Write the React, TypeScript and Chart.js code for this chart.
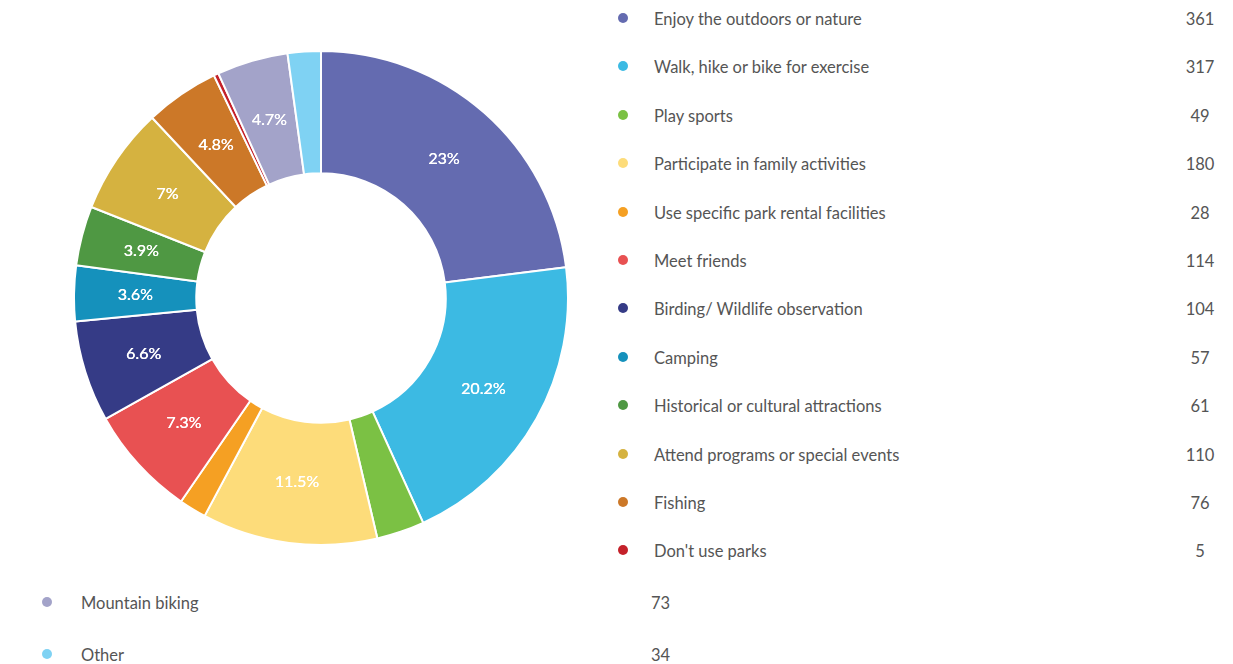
import React, { useEffect, useRef } from "react";
import { Chart, registerables } from "chart.js";

Chart.register(...registerables);

const categories = [
  "Enjoy the outdoors or nature",
  "Walk, hike or bike for exercise",
  "Play sports",
  "Participate in family activities",
  "Use specific park rental facilities",
  "Meet friends",
  "Birding/ Wildlife observation",
  "Camping",
  "Historical or cultural attractions",
  "Attend programs or special events",
  "Fishing",
  "Don't use parks",
  "Mountain biking",
  "Other",
];

const counts = [361, 317, 49, 180, 28, 114, 104, 57, 61, 110, 76, 5, 73, 34];

const colors = [
  "#646bb0",
  "#3cbae3",
  "#7bc144",
  "#fddc7a",
  "#f5a023",
  "#e85152",
  "#353b86",
  "#1591bc",
  "#4f9843",
  "#d5b240",
  "#cc7828",
  "#c4212a",
  "#a3a3c9",
  "#7fd2f3",
];

const labelPlugin = {
  id: "sliceLabels",
  afterDatasetsDraw(chart: any) {
    const ctx = chart.ctx;
    const meta = chart.getDatasetMeta(0);
    const data = chart.data.datasets[0].data as number[];
    const total = data.reduce((a, b) => a + b, 0);
    ctx.save();
    ctx.font = "16px Lato";
    ctx.fillStyle = "#ffffff";
    ctx.textAlign = "center";
    ctx.textBaseline = "middle";
    meta.data.forEach((arc: any, i: number) => {
      const pct = (data[i] / total) * 100;
      if (pct < 3.5) return;
      const p = arc.tooltipPosition();
      const txt = (Math.round(pct * 10) / 10).toString() + "%";
      ctx.fillText(txt, p.x, p.y);
      ctx.fillText(txt, p.x + 0.3, p.y);
    });
    ctx.restore();
  },
};

const textStyle: React.CSSProperties = {
  position: "absolute",
  fontFamily: "Lato, sans-serif",
  fontSize: 16.5,
  color: "#555555",
  whiteSpace: "nowrap",
  lineHeight: "20px",
};

export default function App() {
  const canvasRef = useRef<HTMLCanvasElement | null>(null);

  useEffect(() => {
    if (!canvasRef.current) return;
    const chart = new Chart(canvasRef.current, {
      type: "doughnut",
      data: {
        labels: categories,
        datasets: [
          {
            data: counts,
            backgroundColor: colors,
            borderColor: "#ffffff",
            borderWidth: 2,
          },
        ],
      },
      options: {
        animation: false,
        responsive: true,
        maintainAspectRatio: false,
        cutout: "50.5%",
        layout: { padding: 0 },
        plugins: {
          legend: { display: false },
          tooltip: { enabled: false },
        },
      },
      plugins: [labelPlugin],
    });
    return () => chart.destroy();
  }, []);

  const rightRows = categories.slice(0, 12).map((c, i) => ({ c, v: counts[i], col: colors[i], y: 18 + i * 48.4 }));
  const bottomRows = categories.slice(12).map((c, k) => ({ c, v: counts[12 + k], col: colors[12 + k], y: 602 + k * 52 }));

  return (
    <div style={{ position: "fixed", left: 0, top: 0, width: 1233, height: 664, background: "#fff", overflow: "hidden" }}>
      <div style={{ position: "absolute", left: 73, top: 49.5, width: 496, height: 496 }}>
        <canvas ref={canvasRef} />
      </div>
      {rightRows.map((r, i) => (
        <React.Fragment key={"r" + i}>
          <div style={{ position: "absolute", left: 618, top: r.y - 5, width: 10, height: 10, borderRadius: 5, background: r.col }} />
          <div style={{ ...textStyle, left: 654, top: r.y - 9 }}>{r.c}</div>
          <div style={{ ...textStyle, left: 1160, width: 80, textAlign: "center", top: r.y - 9 }}>{r.v}</div>
        </React.Fragment>
      ))}
      {bottomRows.map((r, i) => (
        <React.Fragment key={"b" + i}>
          <div style={{ position: "absolute", left: 42, top: r.y - 5, width: 10, height: 10, borderRadius: 5, background: r.col }} />
          <div style={{ ...textStyle, left: 81, top: r.y - 9 }}>{r.c}</div>
          <div style={{ ...textStyle, left: 651, top: r.y - 9 }}>{r.v}</div>
        </React.Fragment>
      ))}
    </div>
  );
}
